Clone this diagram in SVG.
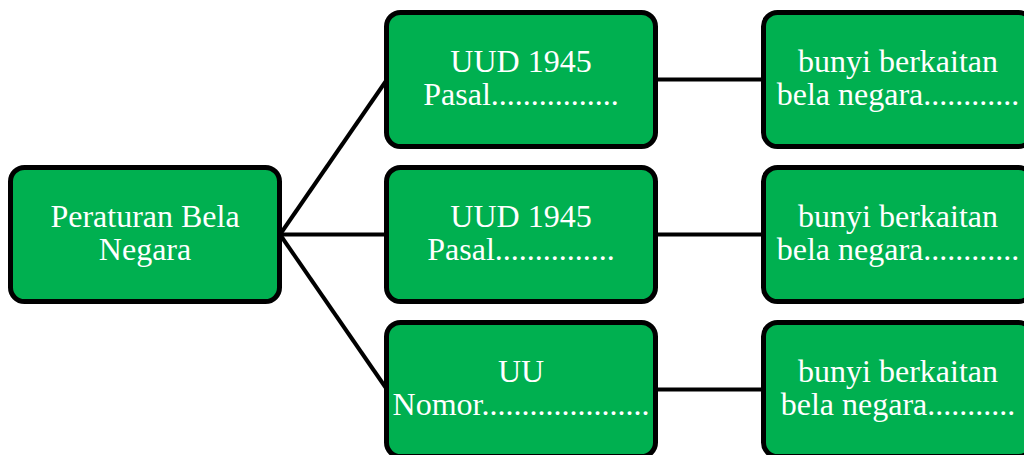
<svg xmlns="http://www.w3.org/2000/svg" width="1024" height="455" viewBox="0 0 1024 455">
  <style>
    .box { fill: #00B050; stroke: #000000; stroke-width: 5; }
    .lbl { fill: #FFFFFF; font-family: "Liberation Serif", "Times New Roman", serif; font-size: 32px; text-anchor: middle; }
    .conn { stroke: #000000; stroke-width: 4; fill: none; }
  </style>
  <rect width="1024" height="455" fill="#FFFFFF"/>
  <g id="connectors">
    <line class="conn" x1="280" y1="234.5" x2="387" y2="79.5"/>
    <line class="conn" x1="280" y1="234.5" x2="387" y2="234.5"/>
    <line class="conn" x1="280" y1="234.5" x2="387" y2="389.5"/>
    <line class="conn" x1="655" y1="79.5" x2="764" y2="79.5"/>
    <line class="conn" x1="655" y1="234.5" x2="764" y2="234.5"/>
    <line class="conn" x1="655" y1="389.5" x2="764" y2="389.5"/>
  </g>
  <g id="root">
    <rect class="box" x="10.5" y="167.5" width="269" height="134" rx="14"/>
    <text class="lbl"><tspan x="145" y="227">Peraturan Bela</tspan><tspan x="145" y="260">Negara</tspan></text>
  </g>
  <g id="uud1">
    <rect class="box" x="386.5" y="12.5" width="269" height="134" rx="14"/>
    <text class="lbl"><tspan x="521" y="72">UUD 1945</tspan><tspan x="521" y="105">Pasal................</tspan></text>
  </g>
  <g id="uud2">
    <rect class="box" x="386.5" y="167.5" width="269" height="134" rx="14"/>
    <text class="lbl"><tspan x="521" y="227">UUD 1945</tspan><tspan x="521" y="260">Pasal...............</tspan></text>
  </g>
  <g id="uu">
    <rect class="box" x="386.5" y="322.5" width="269" height="134" rx="14"/>
    <text class="lbl"><tspan x="521" y="382">UU</tspan><tspan x="521" y="415">Nomor.....................</tspan></text>
  </g>
  <g id="bunyi1">
    <rect class="box" x="763.5" y="12.5" width="269" height="134" rx="14"/>
    <text class="lbl"><tspan x="898" y="72">bunyi berkaitan</tspan><tspan x="898" y="105">bela negara............</tspan></text>
  </g>
  <g id="bunyi2">
    <rect class="box" x="763.5" y="167.5" width="269" height="134" rx="14"/>
    <text class="lbl"><tspan x="898" y="227">bunyi berkaitan</tspan><tspan x="898" y="260">bela negara............</tspan></text>
  </g>
  <g id="bunyi3">
    <rect class="box" x="763.5" y="322.5" width="269" height="134" rx="14"/>
    <text class="lbl"><tspan x="898" y="382">bunyi berkaitan</tspan><tspan x="898" y="415">bela negara...........</tspan></text>
  </g>
</svg>
